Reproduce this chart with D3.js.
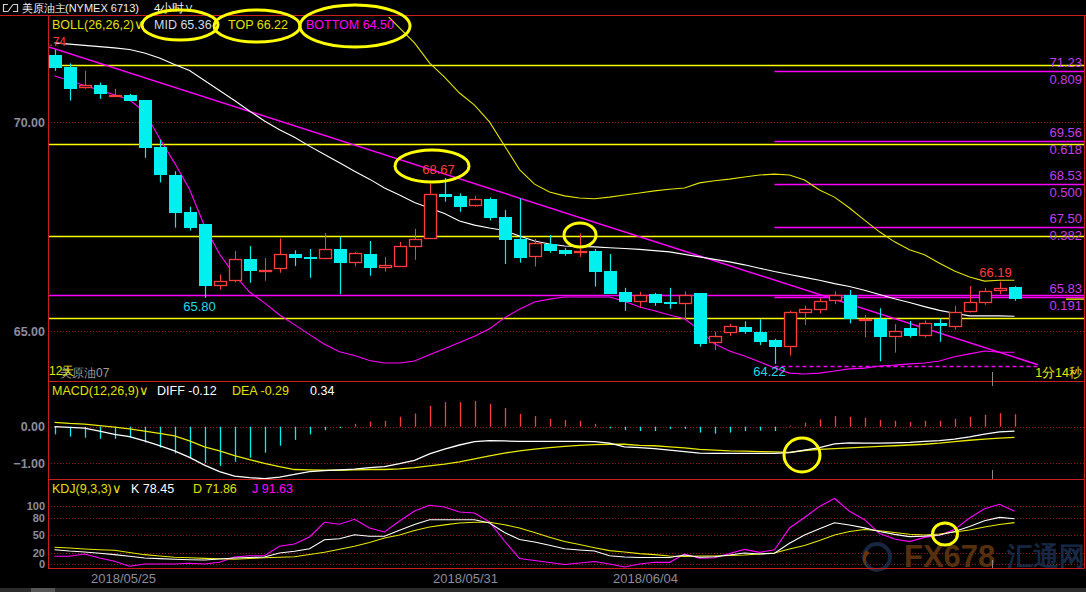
<!DOCTYPE html>
<html><head><meta charset="utf-8">
<script src="https://cdn.jsdelivr.net/npm/d3@7"></script>
<style>
html,body{margin:0;padding:0;background:#000;overflow:hidden}
svg{display:block}
text{font-family:"Liberation Sans",Arial,sans-serif}
</style></head><body>
<svg id="c" width="1086" height="592"></svg>
<script>
// ---------- DATA ----------
const opens  = [71.61,71.32,70.83,70.89,70.64,70.65,70.53,69.41,68.74,67.85, 67.57,66.09,66.20,66.73,66.46,66.48,66.84,66.78,66.74,66.97, 66.64,66.85,66.52,66.55,67.02,67.22,68.28,68.24,68.00,68.17, 67.73,67.21,66.77,67.09,66.94,66.87,66.92,66.44,65.93,65.71, 65.89,65.71,65.66,65.91,64.71,64.95,65.10,64.99,64.78,64.63, 65.43,65.50,65.72,65.87,65.26,65.29,64.87,65.07,64.89,65.19, 65.11,65.45,65.68,65.97,66.05];
const closes = [71.31,70.80,70.89,70.67,70.65,70.52,69.39,68.75,67.84,67.48, 66.09,66.20,66.72,66.45,66.47,66.84,66.76,66.74,66.97,66.64, 66.87,66.52,66.58,67.03,67.22,68.28,68.22,67.98,68.16,67.72, 67.19,66.76,67.11,66.93,66.86,66.91,66.42,65.90,65.71,65.87, 65.68,65.66,65.88,64.70,64.88,65.12,64.98,64.75,64.63,65.45, 65.53,65.72,65.87,65.29,65.30,64.87,65.01,64.89,65.19,65.13, 65.45,65.69,65.96,66.03,65.77];
const highs  = [71.74,71.41,71.23,70.95,70.80,70.68,70.53,69.58,68.83,67.98, 67.57,66.36,66.92,67.04,66.75,67.22,66.94,66.97,67.35,67.26, 66.90,67.16,66.78,67.14,67.45,68.54,68.67,68.30,68.24,68.20, 67.90,68.18,67.21,67.30,66.99,67.34,66.97,66.85,66.04,65.94, 65.92,66.04,65.96,65.92,64.99,65.18,65.24,65.29,64.82,65.49, 65.61,65.79,65.96,65.99,65.39,65.55,65.17,65.25,65.26,65.30, 65.61,66.08,66.04,66.19,66.08];
const lows   = [71.23,70.52,70.80,70.56,70.64,70.52,69.15,68.56,67.48,67.41, 65.80,66.00,66.17,66.16,66.21,66.40,66.56,66.28,66.74,65.89, 66.55,66.33,66.43,66.55,66.71,67.21,68.10,67.86,67.98,67.65, 66.61,66.64,66.55,66.88,66.81,66.78,66.07,65.90,65.49,65.57, 65.61,65.54,65.27,64.63,64.55,64.89,64.94,64.67,64.22,64.42, 65.15,65.43,65.65,65.19,64.86,64.28,64.49,64.85,64.85,64.75, 65.04,65.45,65.63,65.89,65.73];

const bollMid   = [71.90,71.87,71.84,71.81,71.78,71.74,71.66,71.54,71.38,71.24, 71.00,70.76,70.52,70.27,70.03,69.82,69.64,69.43,69.23,69.03, 68.83,68.64,68.43,68.26,68.08,67.95,67.82,67.64,67.54,67.47, 67.41,67.28,67.16,67.09,67.04,67.03,67.02,67.00,66.98,66.96, 66.93,66.90,66.84,66.78,66.72,66.66,66.59,66.51,66.43,66.36, 66.29,66.22,66.14,66.07,65.98,65.88,65.78,65.69,65.59,65.50, 65.43,65.37,65.37,65.37,65.36];
const bollUpper = [72.69,72.74,72.80,72.85,72.90,72.94,73.07,73.46,73.73,74.08, 74.48,74.67,74.69,74.60,74.38,74.25,74.12,73.94,73.77,73.55, 73.24,72.98,72.62,72.26,71.90,71.42,71.08,70.70,70.41,70.01, 69.44,68.87,68.52,68.33,68.24,68.19,68.17,68.21,68.26,68.31, 68.36,68.40,68.43,68.55,68.60,68.64,68.69,68.74,68.76,68.74, 68.62,68.38,68.21,67.95,67.66,67.38,67.14,66.95,66.83,66.63, 66.44,66.30,66.20,66.22,66.22];
const bollLower = [71.11,71.00,70.88,70.77,70.66,70.54,70.25,69.62,69.03,68.40, 67.52,66.85,66.35,65.94,65.68,65.39,65.16,64.92,64.69,64.51, 64.42,64.30,64.24,64.24,64.29,64.44,64.58,64.73,64.88,65.06, 65.32,65.53,65.70,65.77,65.82,65.82,65.82,65.82,65.72,65.58, 65.49,65.39,65.30,65.03,64.70,64.53,64.41,64.27,64.12,64.00, 63.98,64.00,64.05,64.10,64.12,64.17,64.19,64.22,64.24,64.29, 64.39,64.46,64.53,64.50,64.50];

const macdDiff = [0.00,-0.02,-0.04,-0.12,-0.21,-0.27,-0.39,-0.52,-0.66,-0.84, -1.05,-1.23,-1.35,-1.39,-1.42,-1.38,-1.30,-1.23,-1.20,-1.18, -1.16,-1.12,-1.09,-1.01,-0.92,-0.74,-0.61,-0.50,-0.41,-0.38, -0.39,-0.40,-0.40,-0.40,-0.40,-0.40,-0.41,-0.45,-0.55,-0.57, -0.60,-0.64,-0.68,-0.72,-0.73,-0.73,-0.73,-0.73,-0.73,-0.71, -0.64,-0.57,-0.47,-0.44,-0.45,-0.45,-0.44,-0.43,-0.40,-0.38, -0.34,-0.28,-0.20,-0.14,-0.12];
const macdDea  = [0.12,0.09,0.07,0.03,-0.01,-0.06,-0.12,-0.18,-0.25,-0.39, -0.55,-0.66,-0.79,-0.90,-1.00,-1.09,-1.17,-1.18,-1.19,-1.19, -1.18,-1.17,-1.17,-1.15,-1.12,-1.07,-1.02,-0.96,-0.88,-0.80, -0.72,-0.66,-0.61,-0.57,-0.54,-0.51,-0.49,-0.48,-0.48,-0.51, -0.52,-0.55,-0.58,-0.62,-0.64,-0.66,-0.67,-0.68,-0.69,-0.70, -0.65,-0.62,-0.60,-0.58,-0.56,-0.54,-0.52,-0.50,-0.48,-0.45, -0.41,-0.37,-0.34,-0.31,-0.29];
const macdHist = [-0.21,-0.27,-0.30,-0.33,-0.33,-0.30,-0.43,-0.57,-0.73,-0.86, -1.00,-1.07,-0.96,-0.85,-0.71,-0.52,-0.36,-0.21,-0.09,-0.01, 0.08,0.14,0.16,0.27,0.36,0.57,0.67,0.67,0.70,0.62, 0.51,0.35,0.29,0.21,0.18,0.16,0.08,-0.02,-0.09,-0.12, -0.12,-0.06,-0.06,-0.16,-0.19,-0.16,-0.12,-0.11,-0.12,0.00, 0.11,0.20,0.29,0.27,0.24,0.18,0.16,0.13,0.16,0.16, 0.21,0.27,0.33,0.37,0.34];

const kdjK = [25.2,22.9,21.2,19.0,16.6,13.8,10.9,9.7,8.6,7.9, 7.4,9.1,10.9,11.7,12.6,19.5,22.4,26.9,42.4,44.1, 51.0,48.3,48.3,58.6,68.6,76.9,76.9,76.9,76.9,71.2, 54.8,42.6,38.4,32.8,26.7,24.7,22.8,14.8,12.6,11.7, 11.7,11.7,16.0,12.1,13.1,16.0,19.5,17.8,19.0,36.4, 50.7,61.4,71.7,67.9,62.8,56.6,51.6,47.8,48.6,50.5, 56.4,65.3,75.0,80.9,78.45];
const kdjD = [29.3,28.1,26.4,25.2,24.1,20.3,16.6,14.3,12.1,11.2, 10.3,9.5,8.6,10.0,11.4,12.2,13.1,16.9,20.7,25.9, 31.0,37.6,45.3,50.5,58.3,64.3,67.9,71.2,72.4,72.4, 68.3,62.6,54.7,46.6,39.3,34.0,28.6,23.6,21.2,18.4, 16.6,14.3,13.4,14.3,14.3,15.2,16.0,17.8,19.5,26.4, 32.4,41.0,50.5,56.6,60.0,57.9,54.8,51.7,50.5,52.2, 55.7,59.1,64.3,68.6,71.86];
const kdjJ = [13.8,13.8,17.8,10.9,5.2,-3.4,0.5,0.5,0.5,1.7, 0.5,3.4,12.6,14.8,14.8,31.0,35.0,47.1,72.4,69.0, 77.6,62.6,55.7,74.7,91.9,101.7,98.8,90.2,88.4,72.9, 40.2,10.0,6.6,3.1,-0.3,2.2,4.8,0.5,-4.7,0.5, 3.4,3.4,17.8,10.7,11.2,18.6,25.7,20.5,25.0,62.6, 80.7,99.8,113.4,91.4,76.9,53.1,43.6,39.1,46.4,50.2, 59.8,79.8,95.7,103.4,91.63];

const priceTicks = [65, 70];
const macdTicks = [-1, 0];
const kdjTicks = [0, 20, 50, 80, 100];
const dateLabels = ["2018/05/25", "2018/05/31", "2018/06/04"];
const dateIdx = [2.4, 25.2, 37.2];

const fibRatios = ["0.809", "0.618", "0.500", "0.382", "0.191"];
const fibPrices = [71.23, 69.56, 68.53, 67.50, 65.83];
const fibStartIdx = 48;
const fibZeroPrice = 64.17;
const yellowLevels = [71.37, 69.47, 67.28, 65.32];
const supportLevel = 65.88;
const trendIdx = [-0.43, 65.57];
const trendPrice = [71.81, 64.20];

// ---------- SETUP ----------
const W = 1086, H = 592, L = 48, R = 1084;
const mainTop = 16, mainBot = 381, macdBot = 479, kdjBot = 568;
const svg = d3.select("#c");
svg.append("rect").attr("width", W).attr("height", H).attr("fill", "#000");

const x = d3.scaleLinear().domain([0, 64]).range([54.5, 1014.5]);
const yP = d3.scaleLinear().domain([65, 70]).range([331.3, 122.3]);
const yM = d3.scaleLinear().domain([-1, 0]).range([463.3, 426.7]);
const yK = d3.scaleLinear().domain([0, 100]).range([564.3, 506.3]);

const defs = svg.append("defs");
function clip(id, y0, y1) {
  defs.append("clipPath").attr("id", id).append("rect")
    .attr("x", L + 1).attr("y", y0 + 1).attr("width", R - L - 1).attr("height", y1 - y0 - 1);
}
clip("cMain", mainTop, mainBot); clip("cMacd", mainBot, macdBot); clip("cKdj", macdBot, kdjBot);
defs.append("clipPath").attr("id", "cAll").append("rect").attr("x", L + 1).attr("y", 0).attr("width", R - L).attr("height", H);

const GRID = "#8e1b1b", AX = "#8c8c9c", CY = "#00f0f0", RD = "#ff3c3c", YL = "#ffff00", MG = "#ff00ff";
const idx = d3.range(opens.length);

// grid via axes
function grid(scale, ticks) {
  const g = svg.append("g").attr("transform", `translate(${R},0)`)
    .call(d3.axisLeft(scale).tickValues(ticks).tickSize(R - L - 1).tickFormat(""));
  g.select(".domain").remove();
  g.selectAll("line").attr("stroke", GRID).attr("stroke-dasharray", "1,2").attr("shape-rendering", "crispEdges");
}
grid(yP, priceTicks); grid(yM, macdTicks); grid(yK, kdjTicks);

// axis labels
function labels(scale, ticks, fmt, fs) {
  const g = svg.append("g").attr("transform", `translate(${L - 3},0)`)
    .call(d3.axisLeft(scale).tickValues(ticks).tickSize(0).tickPadding(0).tickFormat(fmt));
  g.select(".domain").remove();
  g.selectAll("text").attr("fill", AX).attr("font-size", fs).attr("font-weight", "bold")
    .attr("font-family", "'Liberation Sans',Arial,sans-serif");
}
labels(yP, priceTicks, d3.format(".2f"), 12.5);
labels(yM, macdTicks, d3.format(".2f"), 12.5);
labels(yK, kdjTicks, d3.format("d"), 11);

// x labels
const xa = svg.append("g").attr("transform", `translate(0,${kdjBot + 2})`)
  .call(d3.axisBottom(x).tickValues(dateIdx).tickSize(0).tickPadding(4).tickFormat((d, i) => dateLabels[i]));
xa.select(".domain").remove();
xa.selectAll("text").attr("fill", AX).attr("font-size", 13).attr("text-anchor", "start")
  .attr("font-family", "'Liberation Sans',Arial,sans-serif");

// ---------- MAIN PANEL ----------
const gm = svg.append("g").attr("clip-path", "url(#cMain)");
gm.selectAll(".yl").data(yellowLevels).join("line")
  .attr("x1", L).attr("x2", R).attr("y1", d => Math.round(yP(d)) + 0.5).attr("y2", d => Math.round(yP(d)) + 0.5)
  .attr("stroke", YL).attr("stroke-width", 1.6);
gm.append("line").attr("x1", L).attr("x2", R)
  .attr("y1", Math.round(yP(supportLevel)) + 0.5).attr("y2", Math.round(yP(supportLevel)) + 0.5)
  .attr("stroke", MG).attr("stroke-width", 1.6);
gm.selectAll(".fib").data(fibPrices).join("line")
  .attr("x1", x(fibStartIdx)).attr("x2", R)
  .attr("y1", d => Math.round(yP(d)) + 0.5).attr("y2", d => Math.round(yP(d)) + 0.5)
  .attr("stroke", MG).attr("stroke-width", 1.6);
gm.append("line").attr("x1", x(fibStartIdx)).attr("x2", x(65.5))
  .attr("y1", Math.round(yP(fibZeroPrice)) + 0.5).attr("y2", Math.round(yP(fibZeroPrice)) + 0.5)
  .attr("stroke", MG).attr("stroke-width", 1.4).attr("stroke-dasharray", "4,3");
gm.append("line").attr("x1", 1066).attr("x2", R).attr("y1", yP(closes[64])).attr("y2", yP(closes[64]))
  .attr("stroke", YL).attr("stroke-width", 1.2);

gm.append("line").attr("x1", x(trendIdx[0])).attr("y1", yP(trendPrice[0]))
  .attr("x2", x(trendIdx[1])).attr("y2", yP(trendPrice[1]))
  .attr("stroke", MG).attr("stroke-width", 1.5);

const lineP = d3.line().x((d, i) => x(i)).y(d => yP(d));
gm.append("path").attr("d", lineP(bollUpper)).attr("fill", "none").attr("stroke", "#e4e400").attr("stroke-width", 1.1);
gm.append("path").attr("d", lineP(bollMid)).attr("fill", "none").attr("stroke", "#ffffff").attr("stroke-width", 1.1);
gm.append("path").attr("d", lineP(bollLower)).attr("fill", "none").attr("stroke", MG).attr("stroke-width", 1.1);

// candles
const cg = gm.append("g");
idx.forEach(i => {
  const o = opens[i], c = closes[i], h = highs[i], l = lows[i];
  const up = c >= o;
  const cx = Math.round(x(i)) + 0.5;
  const top = Math.round(yP(Math.max(o, c))), bot = Math.max(Math.round(yP(Math.min(o, c))), top + 1);
  const col = up ? RD : CY;
  if (up) {
    cg.append("line").attr("x1", cx).attr("x2", cx).attr("y1", yP(h)).attr("y2", top).attr("stroke", col);
    cg.append("line").attr("x1", cx).attr("x2", cx).attr("y1", bot).attr("y2", yP(l)).attr("stroke", col);
    cg.append("rect").attr("x", cx - 6).attr("y", top + 0.5).attr("width", 12).attr("height", Math.max(bot - top - 1, 1))
      .attr("fill", "#000").attr("stroke", col).attr("stroke-width", 1.3);
  } else {
    cg.append("line").attr("x1", cx).attr("x2", cx).attr("y1", yP(h)).attr("y2", yP(l)).attr("stroke", col).attr("stroke-width", 1.2);
    cg.append("rect").attr("x", cx - 6.5).attr("y", top).attr("width", 13).attr("height", Math.max(bot - top, 2))
      .attr("fill", col);
  }
});

// fib labels
const fl = svg.append("g").attr("font-size", 13).attr("fill", "#c83ce8").attr("text-anchor", "end");
fibPrices.forEach((p, i) => {
  fl.append("text").attr("x", R - 2).attr("y", yP(p) - 8).attr("dy", "0.35em").text(p.toFixed(2));
  fl.append("text").attr("x", R - 2).attr("y", yP(p) + 9).attr("dy", "0.35em").text(fibRatios[i]);
});

// value labels
const vl = svg.append("g").attr("font-size", 13).attr("text-anchor", "middle");
const maxI = d3.maxIndex(highs), minI = d3.minIndex(lows);
svg.append("g").attr("clip-path", "url(#cAll)").append("text").attr("x", x(maxI) + 11.5).attr("y", yP(highs[maxI]) - 8)
  .attr("dy", "0.35em").attr("text-anchor", "end").attr("font-size", 12).attr("fill", RD).text(highs[maxI].toFixed(2));
vl.append("text").attr("x", x(26) - 6).attr("y", yP(highs[26]) - 8).attr("dy", "0.35em").attr("fill", RD).text(highs[26].toFixed(2));
vl.append("text").attr("x", x(10) - 5).attr("y", yP(lows[10]) + 9).attr("dy", "0.35em").attr("fill", "#20d8e8").text(lows[10].toFixed(2));
vl.append("text").attr("x", x(minI) - 5).attr("y", yP(lows[minI]) + 8).attr("dy", "0.35em").attr("fill", "#20d8e8").text(lows[minI].toFixed(2));
vl.append("text").attr("x", x(63) - 4).attr("y", yP(highs[63]) - 9).attr("dy", "0.35em").attr("fill", RD).text(highs[63].toFixed(2));

// bottom-left / right texts in main panel
svg.append("text").attr("x", 60).attr("y", 373).attr("dy", "0.35em").attr("font-size", 12).attr("fill", "#9a9a9a")
  .attr("font-family", "'Noto Sans CJK SC',sans-serif").text("美原油07");
svg.append("text").attr("x", 49).attr("y", 371).attr("dy", "0.35em").attr("font-size", 12).attr("fill", "#e8e800")
  .attr("font-family", "'Noto Sans CJK SC',sans-serif").text("12天");
svg.append("text").attr("x", R - 2).attr("y", 373).attr("dy", "0.35em").attr("font-size", 12.5).attr("fill", "#e8e800")
  .attr("text-anchor", "end").attr("font-family", "'Noto Sans CJK SC',sans-serif").text("1分14秒");

// ---------- MACD ----------
const gmc = svg.append("g").attr("clip-path", "url(#cMacd)");
gmc.selectAll(".hb").data(macdHist).join("line")
  .attr("x1", (d, i) => Math.round(x(i)) + 0.5).attr("x2", (d, i) => Math.round(x(i)) + 0.5)
  .attr("y1", yM(0)).attr("y2", d => yM(d) + (Math.abs(yM(d) - yM(0)) < 1 ? (d >= 0 ? -1 : 1) : 0))
  .attr("stroke", d => d >= 0 ? RD : CY).attr("stroke-width", 1.3);
const lineM = d3.line().x((d, i) => x(i)).y(d => yM(d));
gmc.append("path").attr("d", lineM(macdDea)).attr("fill", "none").attr("stroke", "#e8e800").attr("stroke-width", 1.3);
gmc.append("path").attr("d", lineM(macdDiff)).attr("fill", "none").attr("stroke", "#ffffff").attr("stroke-width", 1.3);

// ---------- KDJ ----------
const gk = svg.append("g").attr("clip-path", "url(#cKdj)");
const lineK = d3.line().x((d, i) => x(i)).y(d => yK(d));
gk.append("path").attr("d", lineK(kdjJ)).attr("fill", "none").attr("stroke", MG).attr("stroke-width", 1.1);
gk.append("path").attr("d", lineK(kdjD)).attr("fill", "none").attr("stroke", "#e8e800").attr("stroke-width", 1.1);
gk.append("path").attr("d", lineK(kdjK)).attr("fill", "none").attr("stroke", "#ffffff").attr("stroke-width", 1.1);

// watermark
const wm = svg.append("g").attr("opacity", 0.85);
wm.append("circle").attr("cx", 877).attr("cy", 557).attr("r", 13).attr("fill", "none").attr("stroke", "#1c2e4e").attr("stroke-width", 4);
wm.append("path").attr("d", "M866,550 A12,12 0 0,0 880,569 A9,9 0 0,1 870,553 Z").attr("fill", "#7a3e10");
wm.append("text").attr("x", 904).attr("y", 556).attr("dy", "0.35em").attr("font-size", 31).attr("font-weight", "bold")
  .attr("fill", "#65380f").attr("font-family", "'Liberation Sans',Arial,sans-serif").text("FX678");
wm.append("text").attr("x", 1007).attr("y", 556).attr("dy", "0.35em").attr("font-size", 26).attr("font-weight", "bold")
  .attr("fill", "#1c3050").attr("font-family", "'Noto Sans CJK SC',sans-serif").text("汇通网");

// ---------- FRAME ----------
const fr = svg.append("g").attr("stroke", "#c81e1e").attr("stroke-width", 1.4).attr("shape-rendering", "crispEdges");
fr.append("line").attr("x1", 0).attr("x2", W).attr("y1", 15.5).attr("y2", 15.5);
[mainBot, macdBot, kdjBot].forEach(y => fr.append("line").attr("x1", L).attr("x2", R + 1).attr("y1", y + 0.5).attr("y2", y + 0.5));
fr.append("line").attr("x1", L + 0.5).attr("x2", L + 0.5).attr("y1", 16).attr("y2", kdjBot);
fr.append("line").attr("x1", R + 0.5).attr("x2", R + 0.5).attr("y1", 16).attr("y2", kdjBot);
const tk = svg.append("g").attr("stroke", "#8a8a8a").attr("stroke-width", 1);
const cxr = Math.round(x(62.5)) + 0.5;
[[372, 381], [381, 386], [470, 479], [560, 568]].forEach(s => tk.append("line").attr("x1", cxr).attr("x2", cxr).attr("y1", s[0]).attr("y2", s[1]));

// scrollbar
svg.append("rect").attr("x", 0).attr("y", 588).attr("width", W).attr("height", 4).attr("fill", "#2c2c2c");
svg.append("rect").attr("x", 31).attr("y", 588).attr("width", 24).attr("height", 4).attr("fill", "#555");

// ---------- TITLE & LEGENDS ----------
const ic = svg.append("g").attr("stroke", "#d0d0d0").attr("fill", "none").attr("stroke-width", 1.2);
ic.append("path").attr("d", "M8,4.5 H3.5 V11.5 H8");
ic.append("path").attr("d", "M13,4.5 H17.5 V11.5 H13");
ic.append("path").attr("d", "M8,11.5 L13,4.5");
svg.append("text").attr("x", 22).attr("y", 8).attr("dy", "0.35em").attr("font-size", 10.5).attr("fill", "#f0f0f0")
  .attr("font-family", "'Noto Sans CJK SC',sans-serif").text("美原油主");
svg.append("text").attr("x", 65).attr("y", 8).attr("dy", "0.35em").attr("font-size", 11).attr("fill", "#f0f0f0")
  .attr("font-family", "'DejaVu Sans Mono',monospace").text("(NYMEX 6713)");
svg.append("text").attr("x", 154).attr("y", 8).attr("dy", "0.35em").attr("font-size", 11.5).attr("fill", "#f0f0f0")
  .attr("font-family", "'Noto Sans CJK SC',sans-serif").text("4小时∨");

function legend(y, items) {
  items.forEach(it => svg.append("text").attr("x", it[0]).attr("y", y).attr("dy", "0.35em").attr("font-size", 12.5)
    .attr("fill", it[2]).text(it[1]));
}
legend(25, [[52, "BOLL(26,26,2)∨", "#e0e000"], [154, "MID " + bollMid[64].toFixed(2), "#c8dcf0"],
  [228, "TOP " + bollUpper[64].toFixed(2), "#e0e000"], [306, "BOTTOM " + bollLower[64].toFixed(2), MG]]);
legend(391, [[52, "MACD(12,26,9)∨", "#e0e000"], [157, "DIFF " + macdDiff[64].toFixed(2), "#ffffff"],
  [232, "DEA " + macdDea[64].toFixed(2), "#e0e000"], [310, macdHist[64].toFixed(2), "#ffffff"]]);
legend(489, [[52, "KDJ(9,3,3)∨", "#e0e000"], [131, "K " + kdjK[64].toFixed(2), "#ffffff"],
  [193, "D " + kdjD[64].toFixed(2), "#e0e000"], [252, "J " + kdjJ[64].toFixed(2), MG]]);

// ---------- ANNOTATION ELLIPSES ----------
const ann = [[180, 25, 38, 15], [257, 26, 43, 16], [355, 26, 55, 21], [432, 166, 37, 16], [580, 235, 16, 12], [802, 455, 18, 17], [945, 534, 12.5, 11]];
svg.append("g").selectAll("ellipse").data(ann).join("ellipse")
  .attr("cx", d => d[0]).attr("cy", d => d[1]).attr("rx", d => d[2]).attr("ry", d => d[3])
  .attr("fill", "none").attr("stroke", YL).attr("stroke-width", 3);
</script>
</body></html>
